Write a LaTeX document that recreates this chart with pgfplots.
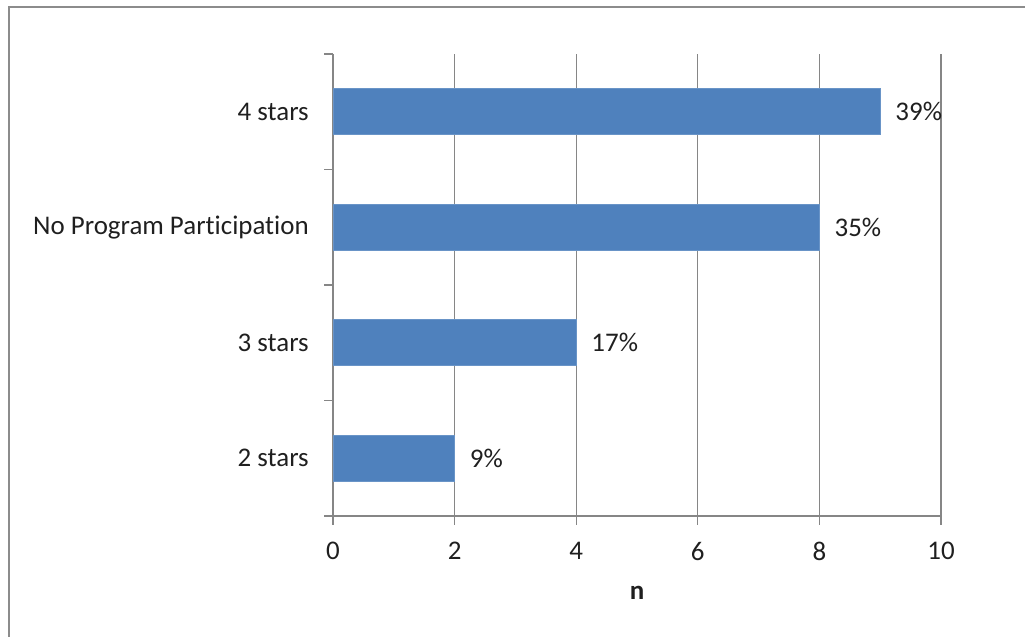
\documentclass[border=0pt]{standalone}
\usepackage{pgfplots}
\pgfplotsset{compat=1.18}
\usepackage{fontspec}
\setmainfont{Carlito}[Ligatures=NoCommon]

\definecolor{barblue}{HTML}{4F81BD}
\definecolor{axisgray}{HTML}{868686}
\definecolor{framegray}{HTML}{8C8C8C}
\definecolor{textdark}{HTML}{1F1F1F}

\begin{document}
\begin{tikzpicture}[font=\fontsize{20.2}{24}\selectfont, text=textdark]
  % page = 1025 x 636 px, 1 px = 0.75pt
  \path[use as bounding box] (0,0) rectangle (768.75pt,-477pt);
  \draw[framegray, line width=1.5pt] (6.75pt,-500pt) -- (6.75pt,-5.25pt) -- (800pt,-5.25pt);

  \begin{axis}[
    at={(249.75pt,-387pt)}, anchor=south west,
    scale only axis,
    width=456pt, height=346.5pt,
    xbar, bar width=34.5pt,
    xmin=0, xmax=10,
    ymin=-0.5, ymax=3.5,
    axis lines*=left,
    axis line style={axisgray, line width=0.9pt},
    xtick={0,2,4,6,8,10},
    xmajorgrids=true,
    grid style={axisgray, line width=0.9pt},
    tick align=outside,
    major tick length=6.5pt,
    tick style={axisgray, line width=0.9pt},
    /pgf/number format/assume math mode=true,
    xticklabel style={yshift=-9.5pt},
    ytick={-0.5,0.5,1.5,2.5,3.5},
    yticklabels={},
    extra y ticks={0,1,2,3},
    extra y tick labels={2 stars,3 stars,No Program Participation,4 stars},
    extra y tick style={major tick length=0pt,
      yticklabel style={inner sep=0pt, xshift=-18pt}},
    xlabel={\bfseries n},
    xlabel style={at={(axis description cs:0.5,0)}, anchor=base, yshift=-62.5pt},
    nodes near coords,
    point meta=explicit symbolic,
    every node near coord/.append style={anchor=west, inner sep=0pt, xshift=11.25pt, text=textdark},
  ]
    \addplot[fill=barblue, draw=barblue!85!white, line width=0.4pt] coordinates {
      (2,0) [9\%]
      (4,1) [17\%]
      (8,2) [35\%]
      (9,3) [39\%]
    };
  \end{axis}
\end{tikzpicture}
\end{document}
